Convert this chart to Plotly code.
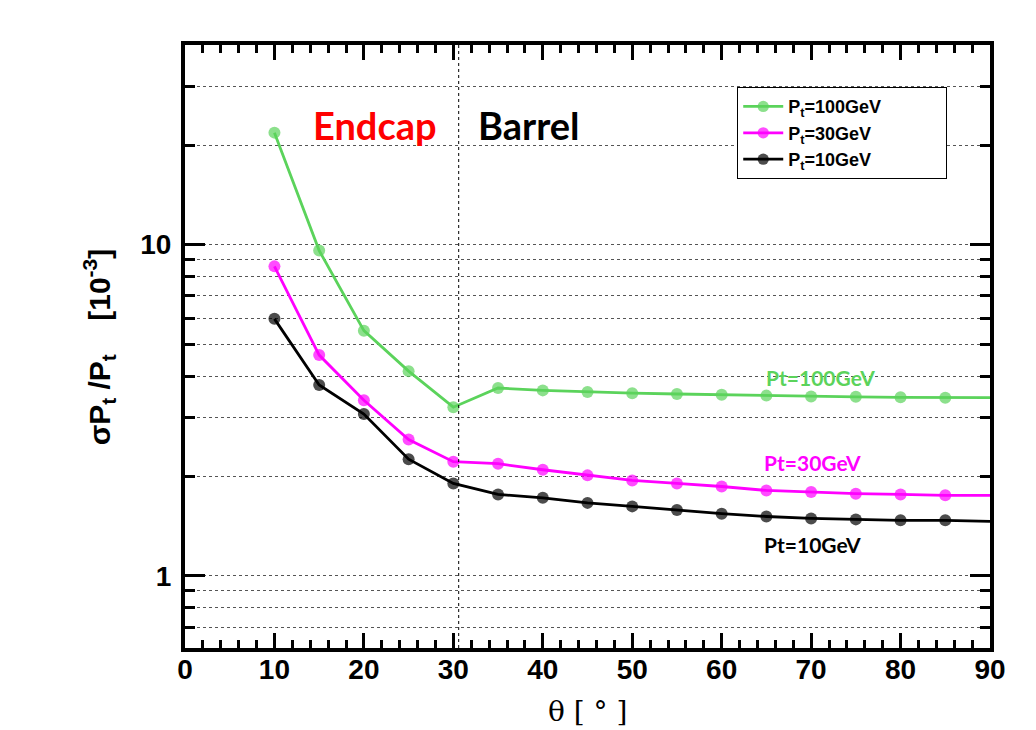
import plotly.graph_objects as go
import math

# ---- data ----
theta = [10, 15, 20, 25, 30, 35, 40, 45, 50, 55, 60, 65, 70, 75, 80, 85, 90]
res_100 = [21.8, 9.6, 5.5, 4.15, 3.23, 3.69, 3.63, 3.59, 3.56, 3.54, 3.52, 3.50, 3.48, 3.47, 3.46, 3.45, 3.45]
res_30 = [8.6, 4.64, 3.39, 2.58, 2.21, 2.18, 2.09, 2.01, 1.94, 1.90, 1.86, 1.81, 1.79, 1.77, 1.76, 1.75, 1.75]
res_10 = [5.97, 3.77, 3.08, 2.25, 1.90, 1.76, 1.72, 1.66, 1.62, 1.58, 1.54, 1.51, 1.49, 1.48, 1.47, 1.47, 1.46]
series_names = ["P<sub>t</sub>=100GeV", "P<sub>t</sub>=30GeV", "P<sub>t</sub>=10GeV"]
series_labels = ["Pt=100GeV", "Pt=30GeV", "Pt=10GeV"]
x_ticks = [0, 10, 20, 30, 40, 50, 60, 70, 80, 90]
y_major = [1, 10]
y_minor = [0.7, 0.8, 0.9, 2, 3, 4, 5, 6, 7, 8, 9, 20, 30]
boundary_theta = 30.6
x_range = [0, 90]
y_range = [0.605, 40.1]

colors = ["#5bd35b", "#ff00ff", "#000000"]
FONT = "Liberation Sans"
NB = "\u00a0"

fig = go.Figure()
n = len(theta)
msizes = [12] * (n - 1) + [0]
for i, (vals, name, col) in enumerate(zip([res_100, res_30, res_10], series_names, colors)):
    # pad first entry so the legend frame is as wide as in the original
    shown = name + (NB * 12 if i == 0 else "")
    fig.add_trace(go.Scatter(
        x=theta, y=vals, name=shown, mode="lines+markers",
        line=dict(color=col, width=2.8),
        marker=dict(color=col, size=msizes, line=dict(width=0)),
    ))

fig.update_xaxes(
    range=x_range, tickvals=x_ticks, ticks="inside", ticklen=15, tickwidth=3,
    tickcolor="black", showline=True, linewidth=4, linecolor="black", mirror="ticks",
    showgrid=False, zeroline=False, automargin=False, ticklabelstandoff=-7,
    tickfont=dict(family=FONT, size=28, color="black", weight="bold"),
    minor=dict(dtick=2, ticks="inside", ticklen=8, tickwidth=3, tickcolor="black", showgrid=False),
)
fig.update_yaxes(
    type="log", range=[math.log10(y_range[0]), math.log10(y_range[1])],
    tickvals=y_major, ticktext=[str(v) for v in y_major],
    ticks="inside", ticklen=20, tickwidth=3, tickcolor="black",
    showline=True, linewidth=4, linecolor="black", mirror="ticks",
    showgrid=True, gridcolor="#555", griddash="dot", gridwidth=1.2,
    zeroline=False, automargin=False, ticklabelstandoff=4,
    tickfont=dict(family=FONT, size=28, color="black", weight="bold"),
    minor=dict(tickvals=y_minor, ticks="inside", ticklen=10, tickwidth=3, tickcolor="black",
               showgrid=True, gridcolor="#555", griddash="dot", gridwidth=1.2),
)

# axis titles
fig.add_annotation(x=-0.107, y=0.5, xref="paper", yref="paper", textangle=-90,
                   text="<b>σP<sub>t</sub>" + NB + "/P<sub>t</sub>" + NB * 4 + "[10<sup>-3</sup>]</b>",
                   showarrow=False,
                   font=dict(family=FONT, size=30, color="black"), xanchor="center", yanchor="middle")
fig.add_annotation(x=0.5, y=-0.106, xref="paper", yref="paper",
                   text="θ [ ° ]", showarrow=False,
                   font=dict(family="DejaVu Serif", size=28, color="black"), xanchor="center", yanchor="middle")

fig.add_shape(type="line", xref="x", yref="paper", x0=boundary_theta, x1=boundary_theta,
              y0=0, y1=1, line=dict(color="black", width=1, dash="dot"), layer="above")

fig.add_annotation(x=0.236, y=0.867, xref="paper", yref="paper", text="<b>Endcap</b>",
                   showarrow=False, font=dict(family="Lato", size=38, color="#ff0000"),
                   xanchor="center", yanchor="middle")
fig.add_annotation(x=0.427, y=0.867, xref="paper", yref="paper", text="<b>Barrel</b>",
                   showarrow=False, font=dict(family="Lato", size=38, color="black"),
                   xanchor="center", yanchor="middle")

label_pos = [(0.789, 0.448), (0.779, 0.308), (0.780, 0.171)]
for lab, col, (lx, ly) in zip(series_labels, colors, label_pos):
    fig.add_annotation(x=lx, y=ly, xref="paper", yref="paper", text="<b>" + lab + "</b>",
                       showarrow=False, font=dict(family="Lato", size=21, color=col),
                       xanchor="center", yanchor="middle")

# page body has an 8px margin: size the figure so it fits the 1036x730 window
fig.update_layout(
    width=1028, height=722,
    margin=dict(l=177, r=46, t=37, b=82),
    paper_bgcolor="white", plot_bgcolor="white",
    showlegend=True,
    legend=dict(x=0.686, y=0.93, xanchor="left", yanchor="top",
                bordercolor="black", borderwidth=1, bgcolor="white",
                font=dict(family=FONT, size=18, color="black", weight="bold"),
                traceorder="normal", tracegroupgap=0, itemwidth=40),
)

fig.write_html("out.html")
